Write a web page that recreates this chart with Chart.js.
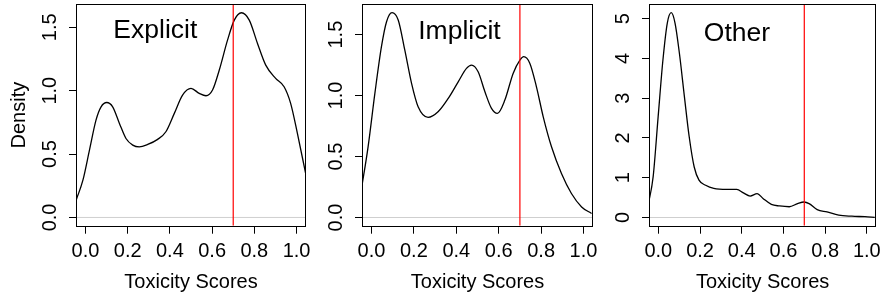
<!DOCTYPE html>
<html>
<head>
<meta charset="utf-8">
<script src="https://cdn.jsdelivr.net/npm/chart.js@4.4.1/dist/chart.umd.min.js"></script>
<style>
  body { margin: 0; background: #ffffff; }
  #wrap { position: relative; width: 887px; height: 297px; }
  #wrap canvas { position: absolute; left: 0; top: 0; }
</style>
</head>
<body>
<div id="wrap">
  <canvas id="chart0" width="887" height="297"></canvas>
  <canvas id="chart1" width="887" height="297"></canvas>
  <canvas id="chart2" width="887" height="297"></canvas>
</div>
<script>
/* Data */
const panelNames = ["Explicit", "Implicit", "Other"];
const xTicks = [0, 0.2, 0.4, 0.6, 0.8, 1.0];
const threshold = 0.7;

const explicitX = [-0.044, -0.012, 0.019, 0.050, 0.074, 0.101, 0.129, 0.161, 0.192, 0.224, 0.255, 0.295, 0.342, 0.381, 0.421, 0.460, 0.500, 0.539, 0.571, 0.602, 0.634, 0.673, 0.705, 0.739, 0.776, 0.815, 0.854, 0.901, 0.941, 0.972, 1.004, 1.043];
const explicitY = [0.137, 0.294, 0.531, 0.768, 0.873, 0.907, 0.873, 0.742, 0.623, 0.571, 0.557, 0.576, 0.616, 0.676, 0.821, 0.965, 1.018, 0.979, 0.960, 1.005, 1.163, 1.399, 1.557, 1.615, 1.557, 1.373, 1.202, 1.097, 1.031, 0.900, 0.663, 0.347];

const implicitX = [-0.047, -0.016, 0.016, 0.047, 0.071, 0.097, 0.126, 0.157, 0.189, 0.220, 0.267, 0.314, 0.362, 0.409, 0.448, 0.472, 0.503, 0.535, 0.566, 0.594, 0.629, 0.668, 0.700, 0.718, 0.747, 0.778, 0.810, 0.849, 0.896, 0.943, 0.991, 1.038];
const implicitY = [0.238, 0.580, 1.018, 1.401, 1.606, 1.680, 1.620, 1.374, 1.100, 0.908, 0.821, 0.867, 0.977, 1.113, 1.223, 1.250, 1.195, 1.031, 0.895, 0.854, 0.963, 1.182, 1.291, 1.319, 1.264, 1.072, 0.826, 0.580, 0.361, 0.197, 0.087, 0.033];

const otherX = [-0.049, -0.025, -0.001, 0.022, 0.043, 0.062, 0.080, 0.101, 0.125, 0.148, 0.172, 0.195, 0.227, 0.266, 0.329, 0.376, 0.408, 0.440, 0.474, 0.502, 0.542, 0.581, 0.628, 0.668, 0.699, 0.723, 0.762, 0.809, 0.865, 0.928, 0.991, 1.038];
const otherY = [0.31, 1.02, 2.53, 3.96, 4.89, 5.15, 4.89, 4.13, 3.04, 2.03, 1.27, 0.94, 0.81, 0.73, 0.705, 0.705, 0.62, 0.54, 0.60, 0.48, 0.33, 0.29, 0.27, 0.35, 0.39, 0.35, 0.20, 0.14, 0.06, 0.033, 0.02, 0.005];

const yTicksExplicit = [0, 0.5, 1.0, 1.5];
const yTicksImplicit = [0, 0.5, 1.0, 1.5];
const yTicksOther = [0, 1, 2, 3, 4, 5];

const yMax = [1.68, 1.747, 5.356];
const yMin = [-0.065, -0.067, -0.206];

// where the panel titles sit, in data units
const titleX = [0.331, 0.415, 0.377];
const titleY = [1.413, 1.461, 4.45];

/* Layout of the three boxes */
const boxLeft = [77, 363, 650];
const boxRight = [305, 592, 880];
const boxTop = 4.5;
const boxBottom = 225.7;

const FONT = "'Liberation Sans', Arial, Helvetica, sans-serif";
Chart.defaults.font.family = FONT;
Chart.defaults.color = "#000";

const allX = [explicitX, implicitX, otherX];
const allY = [explicitY, implicitY, otherY];
const allTicks = [yTicksExplicit, yTicksImplicit, yTicksOther];

function toPoints(xs, ys){
    return xs.map((x, i) => ({x: x, y: ys[i]}));
}

// box, rotated y labels and panel title
const panelDecor = {
    id: "panelDecor",
    afterDraw(chart, args, opts){
        const ctx = chart.ctx;
        const a = chart.chartArea;
        const ys = chart.scales.y;
        const xs = chart.scales.x;
        ctx.save();
        ctx.strokeStyle = "#000";
        ctx.lineWidth = 1;
        ctx.strokeRect(Math.round(a.left) - 0.5, Math.round(a.top) - 0.5, Math.round(a.right - a.left) + 1, Math.round(a.bottom - a.top) + 1);

        ctx.fillStyle = "#000";
        ctx.font = "20px " + FONT;
        ctx.textAlign = "center";
        ctx.textBaseline = "middle";
        ys.ticks.forEach((t) => {
            const y = ys.getPixelForValue(t.value);
            ctx.save();
            ctx.translate(a.left - 26.5, y);
            ctx.rotate(-Math.PI / 2);
            ctx.fillText(opts.fmt(t.value), 0, 0);
            ctx.restore();
        });

        ctx.font = "26.5px " + FONT;
        ctx.textBaseline = "alphabetic";
        ctx.fillText(opts.title, xs.getPixelForValue(opts.tx), ys.getPixelForValue(opts.ty));
        ctx.restore();
    }
};

function makePanel(i){
    const yW = i === 0 ? 77 : 40;
    const yt = allTicks[i];
    const fmt = i === 2 ? (v) => String(v) : (v) => v.toFixed(1);
    const ctx = document.getElementById("chart" + i).getContext("2d");

    const config = {
        type: "line",
        data: {
            datasets: [
                {
                    data: [{x: threshold, y: yMin[i]}, {x: threshold, y: yMax[i]}],
                    borderColor: "#ff0000",
                    borderWidth: 1.2,
                    pointRadius: 0
                },
                {
                    data: toPoints(allX[i], allY[i]),
                    borderColor: "#000000",
                    borderWidth: 1.3,
                    pointRadius: 0,
                    cubicInterpolationMode: "monotone"
                },
                {
                    data: [{x: -0.04, y: 0}, {x: 1.04, y: 0}],
                    borderColor: "#cfcfcf",
                    borderWidth: 1,
                    pointRadius: 0
                }
            ]
        },
        options: {
            responsive: false,
            animation: false,
            devicePixelRatio: 1,
            layout: {
                padding: {left: boxLeft[i] - yW, right: 887 - boxRight[i], top: boxTop, bottom: 0}
            },
            plugins: {
                legend: {display: false},
                tooltip: {enabled: false},
                panelDecor: {title: panelNames[i], tx: titleX[i], ty: titleY[i], fmt: fmt}
            },
            scales: {
                x: {
                    type: "linear",
                    min: -0.04,
                    max: 1.04,
                    afterBuildTicks: (s) => { s.ticks = xTicks.map((v) => ({value: v})); },
                    afterFit: (s) => { s.height = 297 - boxBottom; },
                    ticks: {
                        autoSkip: false,
                        maxRotation: 0,
                        padding: 6,
                        font: {size: 20},
                        color: "#000",
                        callback: (v) => Number(v).toFixed(1)
                    },
                    grid: {drawOnChartArea: false, drawTicks: true, tickLength: 8, color: "#000", lineWidth: 1},
                    border: {display: false},
                    title: {display: true, text: "Toxicity Scores", font: {size: 20}, color: "#000", padding: {top: 0, bottom: 2.5}}
                },
                y: {
                    type: "linear",
                    min: yMin[i],
                    max: yMax[i],
                    afterBuildTicks: (s) => { s.ticks = yt.map((v) => ({value: v})); },
                    afterFit: (s) => { s.width = yW; },
                    ticks: {display: false},
                    grid: {drawOnChartArea: false, drawTicks: true, tickLength: 8, color: "#000", lineWidth: 1},
                    border: {display: false},
                    title: {display: i === 0, text: "Density", font: {size: 20}, color: "#000", padding: {top: 7.3, bottom: 0}}
                }
            }
        },
        plugins: [panelDecor]
    };
    return new Chart(ctx, config);
}

for (let i = 0; i < 3; i++){
    makePanel(i);
}
</script>
</body>
</html>
